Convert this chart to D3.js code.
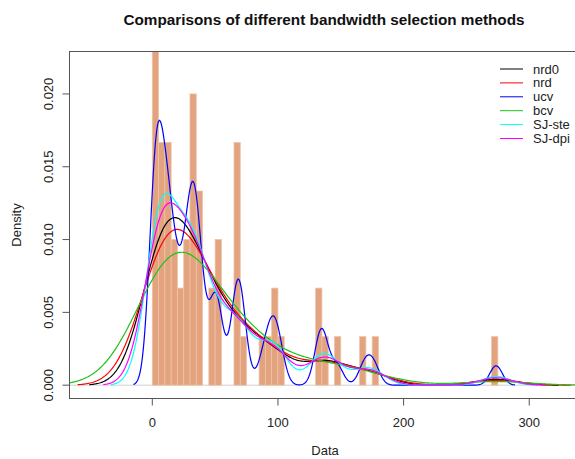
<!DOCTYPE html>
<html>
<head>
<meta charset="utf-8">
<script src="https://cdn.jsdelivr.net/npm/d3@7"></script>
<style>
  html, body { margin: 0; padding: 0; background: #fff; }
  text { font-family: "Liberation Sans", Arial, Helvetica, sans-serif; }
</style>
</head>
<body>
<div id="chart"></div>
<script>
// observations estimated from the histogram (60 values, bins of width 5)
const sample = [
  0, 0.5, 1, 1.5, 2, 2.5, 3, 3.8, 4.6,
  5.6, 6.5, 7.3, 8.2, 9.2,
  10.6, 11.5, 12.5, 13.4, 14.3,
  16, 17.5, 19,
  22, 24.3,
  26.3, 27.8, 29.3,
  30.4, 31.2, 32, 32.8, 33.6, 34.4,
  35.8, 37, 38.2, 39.4,
  47.5, 49.2,
  50.6, 52, 53.6,
  65.5, 66.8, 68, 69, 69.8,
  72.5,
  88, 93, 96, 98, 101.5,
  133, 134.5, 136.5,
  147, 169, 176,
  273.6
];

// bandwidth selectors and the bandwidths
const methods = ["nrd0", "nrd", "ucv", "bcv", "SJ-ste", "SJ-dpi"];
const bandwidths = [16.7, 19.8, 5.0, 27, 11.0, 13];
const colors = ["#000000", "#ff0000", "#0000ff", "#1cc31c", "#00ffff", "#ff00ff"];

const binWidth = 5;
const xTicks = [0, 100, 200, 300];
const yTicks = [0, 0.005, 0.01, 0.015, 0.02];

const width = 575;
const height = 459;
const plot = { left: 70, right: 580, top: 52, bottom: 398 };

const svg = d3
  .select("#chart")
  .append("svg")
  .attr("width", width)
  .attr("height", height);

// scales (R style 4% padding already in the domains)
const x = d3.scaleLinear().domain([-65.5, 340.4]).range([plot.left, plot.right]);
const y = d3.scaleLinear().domain([-0.00088, 0.02288]).range([plot.bottom, plot.top]);

svg
  .append("clipPath")
  .attr("id", "plotClip")
  .append("rect")
  .attr("x", plot.left)
  .attr("y", plot.top)
  .attr("width", plot.right - plot.left)
  .attr("height", plot.bottom - plot.top);

const main = svg.append("g").attr("clip-path", "url(#plotClip)");

// zero line
main
  .append("line")
  .attr("x1", plot.left)
  .attr("x2", plot.right)
  .attr("y1", y(0))
  .attr("y2", y(0))
  .attr("stroke", "#d0d0d0")
  .attr("stroke-width", 1);

// histogram
const n = sample.length;
const bins = d3
  .bin()
  .domain([0, 280])
  .thresholds(d3.range(0, 280, binWidth))(sample)
  .filter((b) => b.length > 0);

main
  .selectAll("rect.bar")
  .data(bins)
  .join("rect")
  .attr("class", "bar")
  .attr("x", (d) => x(d.x0))
  .attr("width", (d) => x(d.x1) - x(d.x0))
  .attr("y", (d) => y(d.length / (n * binWidth)))
  .attr("height", (d) => y(0) - y(d.length / (n * binWidth)))
  .attr("fill", "#e2a37e")
  .attr("stroke", "#eec3a7")
  .attr("stroke-width", 0.8);

// gaussian kernel density, evaluated like R's density(): 512 points, cut = 3
function kde(data, h) {
  const lo = d3.min(data) - 3 * h;
  const hi = d3.max(data) + 3 * h;
  const k = 1 / (data.length * h * Math.sqrt(2 * Math.PI));
  return d3.range(512).map((i) => {
    const t = lo + ((hi - lo) * i) / 511;
    const v = d3.sum(data, (xi) => Math.exp(-0.5 * ((t - xi) / h) ** 2));
    return [t, v * k];
  });
}

const line = d3
  .line()
  .x((d) => x(d[0]))
  .y((d) => y(d[1]));

methods.forEach((m, i) => {
  main
    .append("path")
    .datum(kde(sample, bandwidths[i]))
    .attr("fill", "none")
    .attr("stroke", colors[i])
    .attr("stroke-width", 1.2)
    .attr("d", line);
});

// box
svg
  .append("rect")
  .attr("x", plot.left - 0.5)
  .attr("y", plot.top - 0.5)
  .attr("width", plot.right - plot.left + 1)
  .attr("height", plot.bottom - plot.top + 1)
  .attr("fill", "none")
  .attr("stroke", "#555")
  .attr("stroke-width", 1);

// x axis
const gx = svg.append("g").attr("transform", `translate(0, ${plot.bottom + 0.5})`);
gx.selectAll("line")
  .data(xTicks)
  .join("line")
  .attr("x1", (d) => x(d))
  .attr("x2", (d) => x(d))
  .attr("y1", 0)
  .attr("y2", 7)
  .attr("stroke", "#555");
gx.selectAll("text")
  .data(xTicks)
  .join("text")
  .attr("x", (d) => x(d))
  .attr("y", 28)
  .attr("text-anchor", "middle")
  .attr("font-size", 13)
  .attr("fill", "#222")
  .text((d) => d);

// y axis
const gy = svg.append("g").attr("transform", `translate(${plot.left - 0.5}, 0)`);
gy.selectAll("line")
  .data(yTicks)
  .join("line")
  .attr("x1", 0)
  .attr("x2", -7)
  .attr("y1", (d) => y(d))
  .attr("y2", (d) => y(d))
  .attr("stroke", "#555");
gy.selectAll("text")
  .data(yTicks)
  .join("text")
  .attr("transform", (d) => `translate(-17, ${y(d)}) rotate(-90)`)
  .attr("text-anchor", "middle")
  .attr("font-size", 13)
  .attr("fill", "#222")
  .text((d) => d3.format(".3f")(d));

// axis titles
svg
  .append("text")
  .attr("x", (plot.left + plot.right) / 2)
  .attr("y", 455)
  .attr("text-anchor", "middle")
  .attr("font-size", 13)
  .attr("fill", "#222")
  .text("Data");
svg
  .append("text")
  .attr("transform", `translate(20.5, ${(plot.top + plot.bottom) / 2}) rotate(-90)`)
  .attr("text-anchor", "middle")
  .attr("font-size", 13)
  .attr("fill", "#222")
  .text("Density");

// title
svg
  .append("text")
  .attr("x", (plot.left + plot.right) / 2 - 1)
  .attr("y", 25)
  .attr("text-anchor", "middle")
  .attr("font-size", 15.3)
  .attr("font-weight", "bold")
  .attr("fill", "#111")
  .text("Comparisons of different bandwidth selection methods");

// legend
const legend = svg.append("g").attr("transform", "translate(500, 69)");
const rows = legend
  .selectAll("g")
  .data(methods)
  .join("g")
  .attr("transform", (d, i) => `translate(0, ${i * 13.9})`);
rows
  .append("line")
  .attr("x1", 0)
  .attr("x2", 23)
  .attr("stroke", (d, i) => colors[i])
  .attr("stroke-width", 1);
rows
  .append("text")
  .attr("x", 33)
  .attr("dy", "0.35em")
  .attr("font-size", 13)
  .attr("fill", "#222")
  .text((d) => d);
</script>
</body>
</html>
